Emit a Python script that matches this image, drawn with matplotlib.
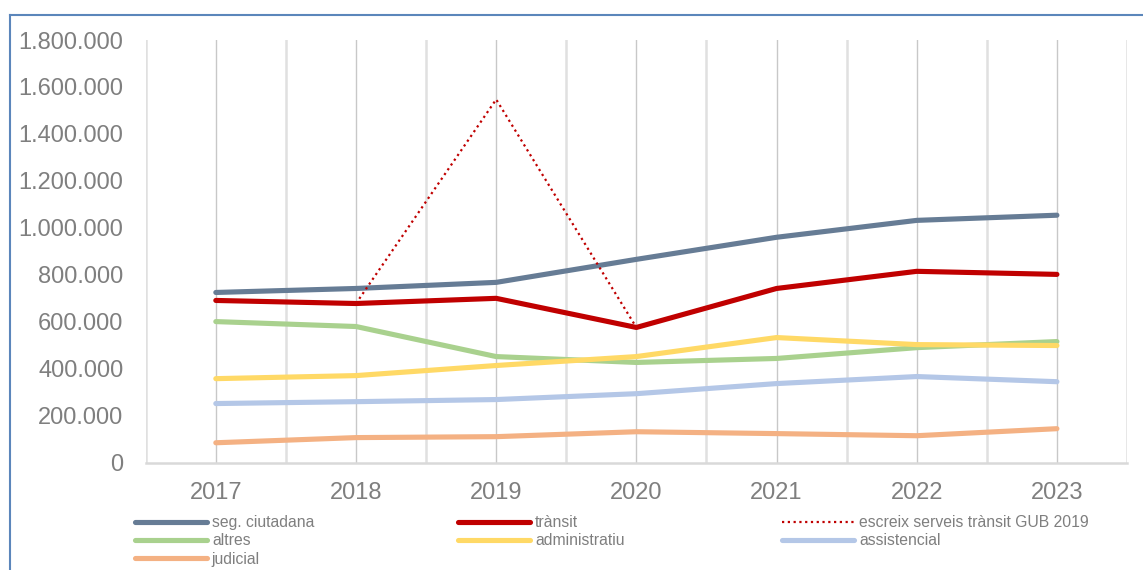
import matplotlib.pyplot as plt
from matplotlib.lines import Line2D
from matplotlib.ticker import FuncFormatter, MultipleLocator

plt.rcParams['font.family'] = ['Liberation Sans', 'DejaVu Sans']

anys = ['2017', '2018', '2019', '2020', '2021', '2022', '2023']

seg_ciutadana = [725000, 742000, 768000, 866000, 960000, 1032000, 1054000]
transit = [691000, 678000, 700000, 576000, 742000, 815000, 802000]
escreix_gub = [None, 678000, 1547000, 576000, None, None, None]
altres = [601000, 580000, 452000, 427000, 444000, 490000, 516000]
administratiu = [358000, 371000, 414000, 452000, 533000, 503000, 499000]
assistencial = [252000, 260000, 269000, 294000, 337000, 367000, 345000]
judicial = [85000, 107000, 111000, 132000, 124000, 115000, 145000]

W, H = 1143, 570
fig = plt.figure(figsize=(W / 100, H / 100), dpi=100)
ax = fig.add_axes([0.1275, 0.1882, 0.8585, 0.7416])

x = list(range(len(anys)))

def traca(vals, color, lw=3.7, ls='-', label=None):
    pts = [(i, v) for i, v in zip(x, vals) if v is not None]
    xs, ys = zip(*pts)
    return ax.plot(xs, ys, color=color, lw=lw, ls=ls, label=label,
                   solid_capstyle='round', solid_joinstyle='round')[0]

l_seg = traca(seg_ciutadana, '#667c95', label='seg. ciutadana')
l_tra = traca(transit, '#c00000', label='trànsit')
l_esc = traca(escreix_gub, '#c00000', lw=1.6, ls=(0, (1, 1.6)),
              label='escreix serveis trànsit GUB 2019')
l_alt = traca(altres, '#a9d18e', label='altres')
l_adm = traca(administratiu, '#ffd966', label='administratiu')
l_ass = traca(assistencial, '#b4c7e7', label='assistencial')
l_jud = traca(judicial, '#f4b183', label='judicial')

ax.set_xlim(-0.5, len(anys) - 0.5)
ax.set_ylim(0, 1800000)
ax.set_xticks(x)
ax.set_xticklabels(anys)
ax.yaxis.set_major_locator(MultipleLocator(200000))
ax.yaxis.set_major_formatter(FuncFormatter(lambda v, p: f'{int(v):,}'.replace(',', '.')))

# graella vertical: anys i punts intermedis
for i in x:
    ax.axvline(i, color='#c8c8c8', lw=1.0, zorder=0)
for i in range(len(anys) + 1):
    ax.axvline(i - 0.5, color='#e0e0e0', lw=1.8, zorder=0)

for s in ['top', 'left', 'right']:
    ax.spines[s].set_visible(False)
ax.spines['bottom'].set_color('#d9d9d9')
ax.spines['bottom'].set_linewidth(1.8)
ax.tick_params(axis='both', length=0, colors='#7f7f7f', labelsize=17)
ax.tick_params(axis='y', pad=16)
ax.tick_params(axis='x', pad=14)

# llegenda en tres columnes col·locades a mà
columnes = [
    ([l_seg, l_alt, l_jud], 135),
    ([l_tra, l_adm], 458),
    ([l_esc, l_ass], 782),
]
for hs, px in columnes:
    leg = fig.legend(handles=hs, labels=[h.get_label() for h in hs],
                     loc='upper left', bbox_to_anchor=(px / W, 1 - 515 / H),
                     frameon=False, fontsize=11.3, labelcolor='#7f7f7f',
                     handlelength=4.6, handletextpad=0.3, labelspacing=0.22,
                     borderaxespad=0, borderpad=0)

# marc exterior
fig.add_artist(Line2D([10 / W, 10 / W], [0, 1 - 15 / H],
                      transform=fig.transFigure, color='#5b86bb', lw=1.5))
fig.add_artist(Line2D([10 / W, 1], [1 - 15 / H, 1 - 15 / H],
                      transform=fig.transFigure, color='#5b86bb', lw=1.5))

fig.savefig('out.png', dpi=100)
